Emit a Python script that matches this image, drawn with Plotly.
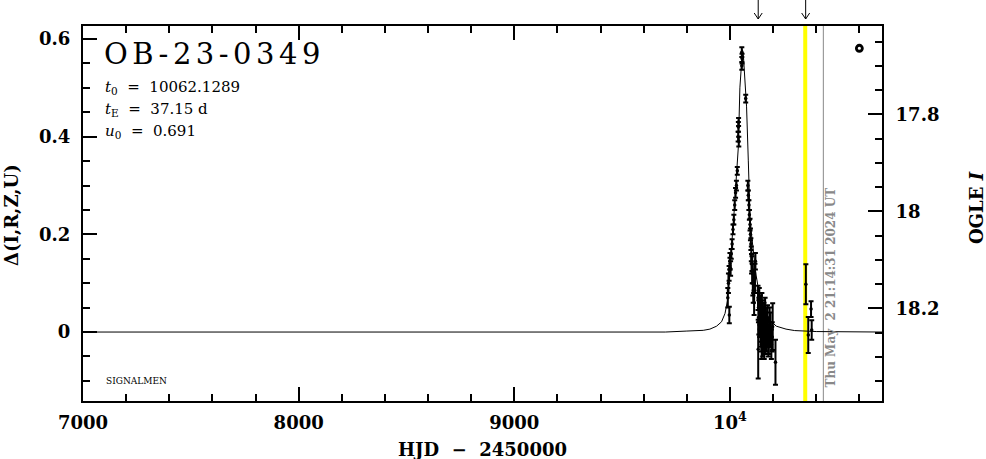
import plotly.graph_objects as go

# ---------------- data ----------------
model_t = [7000, 9700, 9800, 9876, 9907, 9938, 9961, 9977, 9989, 10000, 10010, 10019, 10028,
           10039, 10046, 10054, 10058, 10062, 10066, 10077, 10085, 10093, 10100, 10108, 10120,
           10135, 10150, 10170, 10190, 10215, 10260, 10300, 10400, 10705]
model_d = [0.0, 0.0, 0.002, 0.0035, 0.006, 0.012, 0.021, 0.038, 0.065, 0.127, 0.185, 0.244, 0.307,
           0.38, 0.50, 0.570, 0.578, 0.568, 0.543, 0.461, 0.352, 0.236, 0.20, 0.168, 0.12,
           0.08, 0.055, 0.035, 0.022, 0.012, 0.006, 0.003, 0.001, 0.0]

obs_t = [9990, 9993, 9996, 9997, 10000, 10000, 10003, 10006, 10010, 10014, 10018, 10022, 10026,
         10030, 10034, 10038, 10039, 10040, 10041, 10055, 10056, 10055, 10073,
         10083, 10085, 10088, 10090, 10093, 10095, 10097, 10099, 10102, 10106, 10110, 10118,
         10100, 10103, 10106, 10108, 10112, 10116,
         10130, 10132, 10134, 10136, 10138, 10140, 10142, 10144, 10146, 10148, 10150, 10152,
         10154, 10156, 10158, 10160, 10162, 10165, 10168, 10172, 10176, 10180, 10184, 10198,
         10196, 10131, 10211,
         10139, 10143, 10147, 10151, 10155, 10159, 10163, 10170, 10174, 10178, 10188, 10192,
         10352, 10363, 10376, 10379]
obs_d = [0.07, 0.10, 0.12, 0.035, 0.145, 0.14, 0.13, 0.16, 0.18, 0.21, 0.23, 0.26, 0.285,
         0.30, 0.33, 0.40, 0.42, 0.43, 0.39, 0.573, 0.56, 0.545, 0.478,
         0.30, 0.28, 0.26, 0.24, 0.22, 0.20, 0.18, 0.16, 0.14, 0.12, 0.10, 0.145,
         0.14, 0.12, 0.10, 0.08, 0.06, 0.11,
         0.07, 0.05, 0.03, 0.06, 0.02, 0.04, 0.00, 0.03, -0.01, 0.05, 0.01, -0.02,
         0.02, -0.01, 0.03, 0.0, -0.02, 0.01, -0.01, 0.02, 0.0, -0.015, 0.01, 0.011,
         -0.01, -0.035, -0.062,
         0.045, 0.015, -0.025, 0.035, 0.0, -0.03, 0.04, -0.005, 0.025, -0.02, 0.005, -0.025,
         0.098, -0.006, 0.047, 0.004]
obs_e = [0.02, 0.02, 0.015, 0.017, 0.017, 0.012, 0.015, 0.01, 0.01, 0.01, 0.01, 0.01, 0.01,
         0.01, 0.008, 0.01, 0.01, 0.008, 0.01, 0.01, 0.01, 0.008, 0.008,
         0.01, 0.01, 0.01, 0.01, 0.012, 0.012, 0.012, 0.015, 0.015, 0.02, 0.02, 0.017,
         0.02, 0.02, 0.025, 0.02, 0.025, 0.03,
         0.025, 0.03, 0.035, 0.03, 0.03, 0.035, 0.03, 0.03, 0.03, 0.03, 0.035, 0.03,
         0.03, 0.025, 0.03, 0.035, 0.025, 0.03, 0.03, 0.03, 0.03, 0.03, 0.04, 0.048,
         0.03, 0.06, 0.046,
         0.03, 0.035, 0.03, 0.03, 0.035, 0.025, 0.03, 0.035, 0.03, 0.03, 0.035, 0.03,
         0.041, 0.037, 0.016, 0.02]

legend_mark_t = [10600]
legend_mark_d = [0.581]

now_t = 10349          # yellow line
gray_t = 10433         # grey line
arrow_t = [10131, 10351]
date_text = "Thu May \u00a02 21:14:31 2024 UT"

x_ticks = [7000, 8000, 9000, 10000]
x_ticktext = ["7000", "8000", "9000", "10<sup>4</sup>"]
y_ticks = [0, 0.2, 0.4, 0.6]
y_ticktext = ["0", "0.2", "0.4", "0.6"]
y2_ticks = [17.8, 18.0, 18.2]
y2_ticktext = ["17.8", "18", "18.2"]

event = "OB-23-0349"
t0_txt = "10062.1289"
tE_txt = "37.15 d"
u0_txt = "0.691"

X_RANGE = [7000, 10705]
Y_RANGE = [-0.1412, 0.6266]
Y2_RANGE = [18.391, 17.618]

SERIF = "DejaVu Serif"

fig = go.Figure()

fig.add_trace(go.Scatter(x=model_t, y=model_d, mode="lines",
                         line=dict(color="black", width=1), hoverinfo="skip"))
fig.add_trace(go.Scatter(x=obs_t, y=obs_d, mode="markers",
                         marker=dict(color="black", size=3.5),
                         error_y=dict(type="data", array=obs_e, color="black",
                                      thickness=2, width=2.5)))
fig.add_trace(go.Scatter(x=legend_mark_t, y=legend_mark_d, mode="markers",
                         marker=dict(symbol="circle-open", color="black", size=6,
                                     line=dict(width=2.8, color="black"))))
fig.add_trace(go.Scatter(x=[None], y=[None], yaxis="y2", mode="markers", hoverinfo="skip"))

shapes = [
    dict(type="line", xref="x", yref="paper", x0=now_t, x1=now_t, y0=0, y1=1,
         line=dict(color="#ffff00", width=4), layer="below"),
    dict(type="line", xref="x", yref="paper", x0=gray_t, x1=gray_t, y0=0, y1=1,
         line=dict(color="#888888", width=1), layer="below"),
]
for t in arrow_t:
    common = dict(type="line", xref="x", yref="paper", xsizemode="pixel", xanchor=t,
                  ysizemode="pixel", yanchor=1, line=dict(color="black", width=1))
    shapes.append(dict(common, x0=0, x1=0, y0=7, y1=26))
    shapes.append(dict(common, x0=-4, x1=0, y0=13, y1=7))
    shapes.append(dict(common, x0=4, x1=0, y0=13, y1=7))

ptxt = dict(family=SERIF, size=15, color="black")
annotations = [
    dict(text=event, xref="paper", yref="paper", x=0.024, y=0.926, xanchor="left",
         yanchor="middle", showarrow=False, font=dict(family=SERIF, size=29, color="black")),
    dict(text="<i>t</i><sub>0</sub> \u00a0=\u00a0 " + t0_txt, xref="paper", yref="paper",
         x=0.025, y=0.835, xanchor="left", yanchor="middle", showarrow=False, font=ptxt),
    dict(text="<i>t</i><sub>E</sub> \u00a0=\u00a0 " + tE_txt, xref="paper", yref="paper",
         x=0.025, y=0.776, xanchor="left", yanchor="middle", showarrow=False, font=ptxt),
    dict(text="<i>u</i><sub>0</sub> \u00a0=\u00a0 " + u0_txt, xref="paper", yref="paper",
         x=0.025, y=0.718, xanchor="left", yanchor="middle", showarrow=False, font=ptxt),
    dict(text="SIGNALMEN", xref="paper", yref="paper", x=0.0263, y=0.054, xanchor="left",
         yanchor="middle", showarrow=False, font=dict(family=SERIF, size=9, color="black")),
    dict(text="<b>" + date_text + "</b>", xref="x", yref="y", x=gray_t, y=0.092, xshift=8,
         textangle=-90, xanchor="center", yanchor="middle", showarrow=False,
         font=dict(family=SERIF, size=12, color="#888888")),
    dict(text="<b>HJD \u00a0\u2212\u00a0 2450000</b>", xref="paper", yref="paper", x=0.5,
         y=-0.128, xanchor="center", yanchor="middle", showarrow=False,
         font=dict(family=SERIF, size=18, color="black")),
    dict(text="<b>\u0394(I,R,Z,U)</b>", xref="paper", yref="paper", x=-0.0901, y=0.496,
         xanchor="center", yanchor="middle", textangle=-90, showarrow=False,
         font=dict(family=SERIF, size=18, color="black")),
    dict(text="<b>OGLE <i>I</i></b>", xref="paper", yref="paper", x=1.119, y=0.5147,
         xanchor="center", yanchor="middle", textangle=-90, showarrow=False,
         font=dict(family=SERIF, size=18, color="black")),
]

tickfont = dict(family=SERIF, size=18, color="black", weight="bold")

fig.update_layout(
    width=986, height=459,
    margin=dict(l=83, r=104, t=26, b=58, autoexpand=False),
    paper_bgcolor="white", plot_bgcolor="white",
    showlegend=False,
    shapes=shapes,
    annotations=annotations,
    xaxis=dict(range=X_RANGE, showgrid=False, zeroline=False, showline=True, linewidth=2,
               linecolor="black", mirror="ticks", ticks="inside", ticklen=14, tickwidth=2,
               tickcolor="black", tickmode="array", tickvals=x_ticks, ticktext=x_ticktext,
               tickfont=tickfont, ticklabelstandoff=4, automargin=False,
               minor=dict(ticks="inside", ticklen=7, tickwidth=2, dtick=200, tick0=7000,
                          tickcolor="black", showgrid=False)),
    yaxis=dict(range=Y_RANGE, showgrid=False, zeroline=False, showline=True, linewidth=2,
               linecolor="black", mirror=True, ticks="inside", ticklen=14, tickwidth=2,
               tickcolor="black", tickmode="array", tickvals=y_ticks, ticktext=y_ticktext,
               tickfont=tickfont, ticklabelstandoff=7, automargin=False,
               minor=dict(ticks="inside", ticklen=7, tickwidth=2, dtick=0.05, tick0=0,
                          tickcolor="black", showgrid=False)),
    yaxis2=dict(range=Y2_RANGE, overlaying="y", side="right", showgrid=False, zeroline=False,
                showline=True, linewidth=2, linecolor="black", ticks="inside", ticklen=14,
                tickwidth=2, tickcolor="black", tickmode="array", tickvals=y2_ticks,
                ticktext=y2_ticktext, tickfont=tickfont, ticklabelstandoff=8, automargin=False,
                minor=dict(ticks="inside", ticklen=7, tickwidth=2, dtick=0.05, tick0=17.8,
                           tickcolor="black", showgrid=False)),
)

post_js = """
document.body.style.margin = '0px';
document.body.style.overflow = 'hidden';
document.querySelectorAll('.annotation-text').forEach(function (e) {
  if (e.textContent === 'OB-23-0349') {
    var b0 = e.getBBox();
    e.setAttribute('text-anchor', 'start');
    e.style.textAnchor = 'start';
    e.setAttribute('x', b0.x);
    e.style.letterSpacing = '4.5px';
  }
});
"""

fig.write_html("out.html", post_script=post_js, config={"displayModeBar": False})
